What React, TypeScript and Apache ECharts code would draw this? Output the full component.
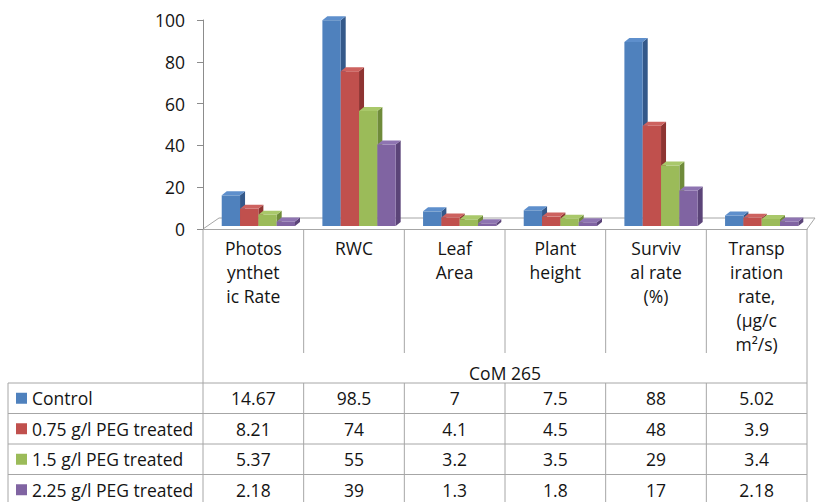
import React, { useEffect, useRef } from "react";
import * as echarts from "echarts";

// Trait categories (line breaks as they wrap in the header cells)
const categories = [
  "Photos\nynthet\nic Rate",
  "RWC",
  "Leaf\nArea",
  "Plant\nheight",
  "Surviv\nal rate\n(%)",
  "Transp\niration\nrate,\n(µg/c\nm²/s)",
];

const groupTitle = "CoM 265";

const seriesNames = [
  "Control",
  "0.75 g/l PEG treated",
  "1.5 g/l PEG treated",
  "2.25 g/l PEG treated",
];

const control = [14.67, 98.5, 7, 7.5, 88, 5.02];
const peg075 = [8.21, 74, 4.1, 4.5, 48, 3.9];
const peg15 = [5.37, 55, 3.2, 3.5, 29, 3.4];
const peg225 = [2.18, 39, 1.3, 1.8, 17, 2.18];

const yMin = 0;
const yMax = 100;
const yInterval = 20;

const allSeries = [control, peg075, peg15, peg225];

// front / side / top face colours for the pseudo-3D columns
const faceColors = [
  { front: "#4F81BD", side: "#34598A", top: "#5E8FCC" },
  { front: "#C0504D", side: "#8E3432", top: "#CD625F" },
  { front: "#9BBB59", side: "#6F8B3A", top: "#A9C86A" },
  { front: "#8064A2", side: "#5B4478", top: "#8E74B1" },
];

const FONT = "'Open Sans', 'DejaVu Sans', sans-serif";
const TEXT = "#141414";
const LINE = "#a6a6a6";
const TABLE_FONT_SIZE = 17.5;

// plot/table geometry
const W = 817;
const H = 502;
const GRID_LEFT = 203;
const GRID_RIGHT_X = 807;
const GRID_TOP = 20;
const GRID_BOTTOM_Y = 229;
const TABLE_LEFT = 8;
const HEADER_BOTTOM = 353;
const ROW_TOP = 383;
const ROW_H = 30.5;

function buildTable() {
  const els: any[] = [];
  const colW = (GRID_RIGHT_X - GRID_LEFT) / categories.length;
  const colX = (k: number) => GRID_LEFT + k * colW;
  const line = (x1: number, y1: number, x2: number, y2: number) => ({
    type: "line",
    shape: { x1, y1, x2, y2 },
    style: { stroke: LINE, lineWidth: 1 },
    silent: true,
  });
  const nRows = seriesNames.length;
  const tableBottom = ROW_TOP + nRows * ROW_H;

  // outer verticals of the category block
  els.push(line(GRID_LEFT, GRID_BOTTOM_Y, GRID_LEFT, tableBottom));
  els.push(line(GRID_RIGHT_X, GRID_BOTTOM_Y, GRID_RIGHT_X, tableBottom));
  // header separators
  for (let k = 1; k < categories.length; k++) {
    els.push(line(colX(k), GRID_BOTTOM_Y, colX(k), HEADER_BOTTOM));
    els.push(line(colX(k), ROW_TOP, colX(k), tableBottom));
  }
  // rows
  for (let r = 0; r <= nRows; r++) {
    const y = ROW_TOP + r * ROW_H;
    els.push(line(TABLE_LEFT, y, GRID_RIGHT_X, y));
  }
  els.push(line(TABLE_LEFT, ROW_TOP, TABLE_LEFT, tableBottom));

  // group title row
  els.push({
    type: "text",
    x: (GRID_LEFT + GRID_RIGHT_X) / 2,
    y: (HEADER_BOTTOM + ROW_TOP) / 2 + 5,
    style: {
      text: groupTitle,
      fontFamily: FONT,
      fontSize: TABLE_FONT_SIZE,
      fill: TEXT,
      align: "center",
      verticalAlign: "middle",
    },
    silent: true,
  });

  // legend keys, series names and values
  allSeries.forEach((vals, r) => {
    const cy = ROW_TOP + r * ROW_H + ROW_H / 2;
    els.push({
      type: "rect",
      shape: { x: 16, y: cy - 5.5, width: 11, height: 11 },
      style: { fill: faceColors[r].front },
      silent: true,
    });
    els.push({
      type: "text",
      x: 32,
      y: cy,
      style: {
        text: seriesNames[r],
        fontFamily: FONT,
        fontSize: TABLE_FONT_SIZE,
        fill: TEXT,
        align: "left",
        verticalAlign: "middle",
      },
      silent: true,
    });
    vals.forEach((v, c) => {
      els.push({
        type: "text",
        x: colX(c) + colW / 2,
        y: cy,
        style: {
          text: String(v),
          fontFamily: FONT,
          fontSize: TABLE_FONT_SIZE,
          fill: TEXT,
          align: "center",
          verticalAlign: "middle",
        },
        silent: true,
      });
    });
  });

  // floor of the 3D plot area
  els.push({
    type: "polyline",
    shape: {
      points: [
        [GRID_LEFT, GRID_BOTTOM_Y],
        [GRID_LEFT + 16, GRID_BOTTOM_Y - 11],
        [GRID_RIGHT_X + 8, GRID_BOTTOM_Y - 11],
        [GRID_RIGHT_X, GRID_BOTTOM_Y],
      ],
    },
    style: { stroke: LINE, lineWidth: 1, fill: null },
    silent: true,
    z: -1,
  });

  return els;
}

function makeRenderItem(sIdx: number) {
  const nSeries = allSeries.length;
  return (params: any, api: any) => {
    const cat = api.value(0);
    const val = api.value(1);
    const base = api.coord([cat, 0]);
    const top = api.coord([cat, val]);
    const band = api.size([1, 0])[0];
    const w = band * 0.182;
    const lift = 3; // columns stand slightly back on the floor
    const dx = 5;
    const dy = -4;
    const x0 = base[0] + band * 0.05 + (sIdx - nSeries / 2) * w;
    const yB = base[1] - lift;
    const yT = top[1] - lift;
    const c = faceColors[sIdx];
    return {
      type: "group",
      children: [
        {
          type: "polygon",
          shape: {
            points: [
              [x0 + w, yT],
              [x0 + w + dx, yT + dy],
              [x0 + w + dx, yB + dy],
              [x0 + w, yB],
            ],
          },
          style: { fill: c.side },
        },
        {
          type: "rect",
          shape: { x: x0, y: yT, width: w, height: yB - yT },
          style: { fill: c.front },
        },
        {
          type: "polygon",
          shape: {
            points: [
              [x0, yT],
              [x0 + dx, yT + dy],
              [x0 + w + dx, yT + dy],
              [x0 + w, yT],
            ],
          },
          style: { fill: c.top },
        },
      ],
    };
  };
}

export default function App() {
  const ref = useRef<HTMLDivElement>(null);

  useEffect(() => {
    if (!ref.current) return;
    const chart = echarts.init(ref.current, null, { renderer: "svg" });
    chart.setOption({
      animation: false,
      backgroundColor: "#ffffff",
      grid: {
        left: GRID_LEFT,
        top: GRID_TOP,
        width: GRID_RIGHT_X - GRID_LEFT,
        height: GRID_BOTTOM_Y - GRID_TOP,
        containLabel: false,
      },
      xAxis: {
        type: "category",
        data: categories,
        boundaryGap: true,
        axisLine: { show: true, lineStyle: { color: LINE, width: 1 } },
        axisTick: { show: false },
        axisLabel: {
          interval: 0,
          margin: 7,
          fontFamily: FONT,
          fontSize: TABLE_FONT_SIZE,
          lineHeight: 24,
          color: TEXT,
          align: "center",
          verticalAlign: "top",
        },
        splitLine: { show: false },
      },
      yAxis: {
        type: "value",
        min: yMin,
        max: yMax,
        interval: yInterval,
        axisLine: { show: true, lineStyle: { color: "#8c8c8c", width: 1 } },
        axisTick: {
          show: true,
          length: 6,
          inside: false,
          lineStyle: { color: "#8c8c8c" },
        },
        axisLabel: {
          margin: 18,
          fontFamily: FONT,
          fontSize: 17.5,
          color: TEXT,
          padding: [5, 0, 0, 0],
        },
        splitLine: { show: false },
      },
      series: allSeries.map((vals, s) => ({
        type: "custom",
        name: seriesNames[s],
        renderItem: makeRenderItem(s),
        data: vals.map((v, i) => [i, v]),
        encode: { x: 0, y: 1 },
        clip: false,
        z: 2,
      })),
      graphic: { elements: buildTable() },
    });
    return () => chart.dispose();
  }, []);

  return (
    <div
      ref={ref}
      style={{ position: "fixed", left: 0, top: 0, width: W, height: H }}
    />
  );
}
